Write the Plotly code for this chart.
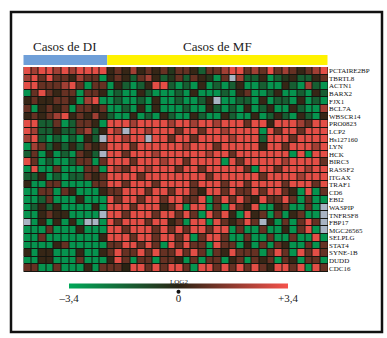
import plotly.graph_objects as go

# ---------------- data ----------------
genes = ["PCTAIRE2BP", "TBRTL8", "ACTN1", "BARX2", "FJX1", "BCL7A", "WBSCR14",
         "PRO0823", "LCP2", "Hs127160", "LYN", "HCK", "BIRC3", "RASSF2", "ITGAX",
         "TRAF1", "CD6", "EBI2", "WASPIP", "TNFRSF8", "FBP17", "MGC26565", "SELPLG",
         "STAT4", "SYNE-1B", "DUDD", "CDC16"]

group_labels = ["Casos de DI", "Casos de MF"]

# log2 expression, rows = genes, columns = DI cases (11)
expr_DI = [
    [3.1, 2.0, 3.1, 3.1, 2.0, 3.1, 2.0, 3.1, 3.1, 3.1, 3.1],
    [2.0, 3.1, 1.0, 3.1, 1.0, 1.0, 0.2, 2.0, 1.0, 1.0, -2.9],
    [3.1, 3.1, 1.0, 1.0, 1.0, 2.0, 3.1, 1.0, -2.9, 1.0, 1.0],
    [-2.9, 1.0, 3.1, 1.0, 0.2, 1.0, 1.0, -2.9, 1.0, 1.0, 0.2],
    [0.2, 1.0, 0.2, 0.2, 1.0, 1.0, 0.2, -2.9, 2.0, 3.1, -2.9],
    [1.0, -2.9, 0.2, 1.0, 0.2, 1.0, -2.9, 1.0, 1.0, 0.2, 1.0],
    [0.2, 1.0, 0.2, 1.0, 2.0, 3.1, 0.2, 1.0, 0.2, 2.0, 0.2],
    [3.1, 3.1, -1.5, -1.5, 1.0, -2.9, -1.5, 1.0, 1.0, 0.2, -2.9],
    [3.1, 2.0, -1.5, -1.5, 0.2, -1.5, -1.5, 1.0, 2.0, -1.5, 0.2],
    [2.0, 3.1, -1.5, -2.9, -1.5, -2.9, -1.5, -2.9, 0.2, -1.5, None],
    [-2.9, 2.0, 1.0, -1.5, 0.2, -1.5, 0.2, -1.5, 1.0, 0.2, 1.0],
    [-1.5, 1.0, -2.9, 0.2, -2.9, -1.5, -2.9, 1.0, 0.2, -1.5, None],
    [3.1, 1.0, -2.9, -1.5, -2.9, -2.9, -1.5, 1.0, 1.0, -2.9, 1.0],
    [-2.9, 3.1, -2.9, -2.9, 1.0, -2.9, -2.9, -2.9, 1.0, 1.0, -2.9],
    [-1.5, -1.5, 0.2, -2.9, -1.5, -2.9, -1.5, -1.5, 1.0, 0.2, 1.0],
    [0.2, -2.9, -2.9, 1.0, 1.0, -2.9, -2.9, -2.9, -2.9, 1.0, 1.0],
    [-2.9, -2.9, 1.0, 1.0, -2.9, 1.0, 0.2, -2.9, -2.9, -2.9, 0.2],
    [-2.9, -2.9, -1.5, 1.0, -2.9, -2.9, -2.9, 0.2, -2.9, -2.9, -2.9],
    [-2.9, -1.5, 0.2, -1.5, 0.2, -2.9, -2.9, -2.9, -2.9, 0.2, -2.9],
    [-2.9, -2.9, 0.2, 1.0, 0.2, 0.2, -2.9, -2.9, -2.9, -2.9, None],
    [None, -2.9, 0.2, -2.9, 0.2, -2.9, 0.2, -2.9, None, None, -2.9],
    [-2.9, -2.9, -2.9, 1.0, -2.9, -2.9, -2.9, 0.2, -2.9, -2.9, -2.9],
    [-2.9, -2.9, 1.0, -2.9, -2.9, -2.9, -2.9, -2.9, -2.9, -2.9, 0.2],
    [-2.9, -2.9, -2.9, -2.9, 0.2, 1.0, -2.9, -2.9, -2.9, -2.9, -2.9],
    [0.2, -2.9, 0.2, 0.2, -2.9, -2.9, -2.9, 0.2, -2.9, -2.9, 0.2],
    [-2.9, -2.9, 0.2, 0.2, -2.9, -2.9, -2.9, 1.0, -2.9, -2.9, -2.9],
    [1.0, 1.0, -2.9, -2.9, 1.0, -2.9, -2.9, -2.9, 0.2, -2.9, 1.0],
]

# log2 expression, rows = genes, columns = MF cases (29)
expr_MF = [
    [0.2, 1.0, 0.2, 2.0, 0.2, 1.0, 0.2, 1.0, -0.5, 1.0, 1.0, 0.2, -1.5, 1.0, 1.0, 2.0, 3.1, 3.1, 1.0, 2.0, 1.0, 3.1, 1.0, 2.0, 1.0, 0.2, 1.0, 2.0, 3.1],
    [0.2, 1.0, 0.2, -1.5, 1.0, 2.0, 0.2, -1.5, -0.5, 1.0, -1.5, 1.0, 0.2, -0.5, -2.9, 1.0, None, 2.0, -1.5, -1.5, 0.2, -2.9, -1.5, -0.5, 0.2, -1.5, -1.5, 0.2, 1.0],
    [-2.9, 0.2, -1.5, -2.9, -1.5, 0.2, 3.1, 3.1, -1.5, -2.9, -1.5, -2.9, 0.2, -2.9, -1.5, -2.9, -1.5, 0.2, -2.9, -2.9, -1.5, -2.9, -2.9, 0.2, -1.5, -2.9, 2.0, -1.5, -2.9],
    [-2.9, -1.5, -2.9, -2.9, 0.2, -1.5, -2.9, -2.9, -2.9, -1.5, -2.9, 0.2, -2.9, -2.9, -2.9, -1.5, -2.9, 0.2, 1.0, -2.9, -2.9, -1.5, 0.2, -2.9, -2.9, -1.5, -2.9, 0.2, -1.5],
    [-2.9, -1.5, -2.9, -2.9, -1.5, -2.9, 0.2, -2.9, -2.9, -1.5, -2.9, -2.9, -1.5, 0.2, None, -2.9, -2.9, -1.5, -1.5, -2.9, 0.2, -2.9, -1.5, -1.5, -2.9, 0.2, -2.9, -1.5, -2.9],
    [-2.9, -2.9, -1.5, -2.9, 0.2, -2.9, 0.2, -2.9, -2.9, -2.9, -1.5, -2.9, -2.9, 0.2, -1.5, -2.9, -1.5, -2.9, 0.2, -2.9, -1.5, 0.2, -2.9, -2.9, 0.2, -1.5, -2.9, -2.9, 2.0],
    [-1.5, -2.9, -2.9, 0.2, -2.9, -1.5, -2.9, 0.2, -1.5, -2.9, -2.9, 0.2, -1.5, -2.9, -2.9, 0.2, -1.5, -2.9, -2.9, 0.2, -2.9, -1.5, 0.2, -1.5, -2.9, 0.2, -1.5, -2.9, 0.2],
    [3.1, 3.1, 3.1, 2.0, 3.1, 3.1, 3.1, 3.1, 2.0, 3.1, 3.1, 2.0, 3.1, 3.1, 2.0, 3.1, 3.1, 3.1, 1.0, 3.1, 3.1, 0.2, 3.1, 3.1, 3.1, 2.0, 1.0, 3.1, 3.1],
    [3.1, 2.0, None, 3.1, 3.1, 2.0, 3.1, 3.1, 3.1, 1.0, 3.1, 3.1, 1.0, 3.1, 3.1, 2.0, 3.1, 3.1, 3.1, 3.1, -2.9, 3.1, 1.0, 3.1, 3.1, 1.0, 3.1, 3.1, 3.1],
    [3.1, 3.1, 2.0, 3.1, 3.1, None, 3.1, 3.1, 1.0, 3.1, 3.1, 1.0, 3.1, 3.1, 3.1, 3.1, 2.0, 3.1, 3.1, 3.1, -1.5, 3.1, 3.1, 3.1, 1.0, 3.1, 3.1, 3.1, 3.1],
    [3.1, 3.1, 3.1, 1.0, 3.1, 3.1, 3.1, 3.1, 3.1, 3.1, 2.0, 3.1, 3.1, 3.1, 1.0, 3.1, 3.1, 3.1, 3.1, 3.1, 0.2, 3.1, 3.1, 1.0, 3.1, 3.1, 3.1, 2.0, 3.1],
    [3.1, 3.1, 1.0, 3.1, 3.1, 3.1, 2.0, 3.1, 3.1, 3.1, 3.1, 3.1, 3.1, 2.0, 3.1, 3.1, 1.0, 3.1, 3.1, 3.1, 3.1, 3.1, 3.1, 3.1, -2.9, 3.1, -2.9, 3.1, 3.1],
    [3.1, 3.1, 3.1, 1.0, 3.1, 3.1, 3.1, 2.0, 3.1, 3.1, 1.0, 3.1, 3.1, 3.1, 3.1, -2.9, 3.1, 1.0, 3.1, 3.1, 3.1, 3.1, 3.1, 2.0, 3.1, 3.1, 3.1, 3.1, 1.0],
    [3.1, 2.0, 1.0, 3.1, 3.1, 2.0, 3.1, 3.1, 3.1, 1.0, 3.1, 3.1, 1.0, 3.1, 3.1, 3.1, 3.1, 3.1, 1.0, -2.9, 3.1, 3.1, 1.0, 3.1, 3.1, 3.1, 2.0, 3.1, 3.1],
    [3.1, 3.1, 3.1, 3.1, 1.0, 3.1, 3.1, 3.1, 3.1, 3.1, 3.1, 3.1, 3.1, 1.0, 3.1, 3.1, 3.1, 3.1, 3.1, 3.1, 1.0, 3.1, 3.1, 3.1, 3.1, 2.0, 3.1, 3.1, 3.1],
    [3.1, 3.1, 1.0, 3.1, 3.1, 3.1, 1.0, 3.1, 3.1, 3.1, 3.1, 1.0, 3.1, 3.1, 3.1, 1.0, 3.1, 3.1, 1.0, 3.1, 3.1, 3.1, 3.1, 1.0, 3.1, 3.1, 3.1, 1.0, 3.1],
    [1.0, 1.0, 3.1, 3.1, 3.1, 1.0, 3.1, 3.1, 1.0, 3.1, 3.1, 1.0, 0.2, 3.1, 3.1, 1.0, 3.1, 1.0, 1.0, 3.1, 1.0, 3.1, 3.1, 1.0, 0.2, -2.9, 3.1, -2.9, 1.0],
    [3.1, 1.0, 3.1, 3.1, 1.0, 3.1, 3.1, 1.0, 3.1, 3.1, 1.0, 1.0, 3.1, -2.9, 1.0, 3.1, 1.0, 3.1, 1.0, 0.2, 3.1, 1.0, 1.0, 3.1, 1.0, -2.9, 1.0, -2.9, -2.9],
    [3.1, 3.1, 3.1, 1.0, 3.1, 3.1, 3.1, 0.2, 1.0, 3.1, -2.9, 3.1, 3.1, -2.9, 1.0, -2.9, 3.1, 1.0, 0.2, 3.1, -2.9, -2.9, 0.2, 1.0, -2.9, -2.9, 1.0, -2.9, None],
    [3.1, 3.1, 1.0, 3.1, 3.1, 3.1, 1.0, 3.1, 3.1, 1.0, 3.1, 1.0, -2.9, 3.1, 1.0, 3.1, 0.2, -2.9, 3.1, 0.2, 1.0, -2.9, 1.0, -2.9, 0.2, 1.0, -2.9, -2.9, None],
    [3.1, 1.0, 3.1, 3.1, 3.1, 1.0, 3.1, 3.1, 0.2, 1.0, -2.9, 3.1, 3.1, -2.9, 3.1, 1.0, 0.2, 1.0, 3.1, 1.0, None, 0.2, -2.9, 1.0, -2.9, 1.0, 3.1, 1.0, None],
    [3.1, 3.1, 1.0, 3.1, 3.1, 3.1, 1.0, 3.1, 1.0, 3.1, 1.0, 3.1, 3.1, 1.0, 3.1, 3.1, -2.9, 1.0, -2.9, -2.9, 1.0, -2.9, -2.9, 0.2, -2.9, 1.0, 3.1, -2.9, None],
    [3.1, 3.1, 3.1, 1.0, 3.1, 3.1, 1.0, 3.1, 3.1, 1.0, 3.1, -2.9, 1.0, 3.1, 3.1, 1.0, -2.9, -2.9, 1.0, -2.9, -2.9, 1.0, -2.9, -2.9, 1.0, -2.9, -2.9, 3.1, -2.9],
    [1.0, 1.0, 3.1, 3.1, 1.0, 3.1, 1.0, -2.9, 3.1, 1.0, 3.1, 1.0, 1.0, -2.9, 3.1, 1.0, 1.0, -2.9, 0.2, -2.9, 1.0, -2.9, 1.0, 0.2, -2.9, -2.9, 1.0, -2.9, 1.0],
    [1.0, 3.1, 1.0, 1.0, 3.1, 1.0, 3.1, 1.0, 1.0, 3.1, 1.0, 3.1, 1.0, -2.9, 1.0, 0.2, 3.1, 1.0, 1.0, 1.0, -2.9, 1.0, 3.1, 1.0, -2.9, 3.1, 1.0, 3.1, 1.0],
    [0.2, 3.1, 1.0, -2.9, 1.0, 1.0, -2.9, 1.0, 1.0, 0.2, -2.9, 1.0, -2.9, 1.0, 1.0, -2.9, 0.2, 1.0, -2.9, 1.0, 0.2, 1.0, -2.9, 1.0, 0.2, -2.9, 1.0, 1.0, -2.9],
    [1.0, 1.0, 0.0, 3.1, 3.1, 1.0, 3.1, 1.0, 3.1, 3.1, 1.0, -2.9, 3.1, 3.1, 1.0, 3.1, 1.0, 3.1, 1.0, 3.1, 1.0, 0.2, 3.1, 3.1, 1.0, 3.1, -2.9, 3.1, 1.0],
]

scale_min, scale_max = -3.4, 3.4
scale_ticks = [-3.4, 0, 3.4]
scale_ticktext = ["\u20133,4", "0", "+3,4"]
scale_title = "LOG2"

# ---------------- build ----------------
W, H = 387, 338
def px(x):
    return x / W
def py(y):
    return 1 - y / H

n_di = len(expr_DI[0])
n_mf = len(expr_MF[0])
z = [a + b for a, b in zip(expr_DI, expr_MF)]
z_missing = [[1 if v is None else None for v in row] for row in z]

FONT = "Liberation Serif"
colorscale = [[0.0, "#00a859"], [0.5, "#2a2313"], [1.0, "#f5524b"]]

fig = go.Figure()
fig.add_trace(go.Heatmap(
    z=z, zmin=scale_min, zmax=scale_max, colorscale=colorscale,
    xgap=1, ygap=1, hoverongaps=False,
    colorbar=dict(
        orientation="h", x=px(178.5), xanchor="center", y=py(291.5), yanchor="middle",
        len=219, lenmode="pixels", thickness=5, outlinewidth=0,
        xpad=0, ypad=0,
        tickvals=scale_ticks, ticktext=scale_ticktext, ticks="",
        tickfont=dict(family=FONT, size=11, color="#222"),
    ),
))
fig.add_trace(go.Heatmap(
    z=z_missing, zmin=0, zmax=1, colorscale=[[0, "#a9b4c3"], [1, "#a9b4c3"]],
    xgap=1, ygap=1, showscale=False, hoverinfo="skip",
))

x0, x1 = 23.5, 328
y0, y1 = 67, 272
fig.update_layout(
    width=W, height=H, margin=dict(l=0, r=0, t=0, b=0),
    paper_bgcolor="white", plot_bgcolor="#15150f",
    xaxis=dict(domain=[px(x0), px(x1)], range=[-0.5, n_di + n_mf - 0.5],
               showticklabels=False, showgrid=False, zeroline=False, ticks=""),
    yaxis=dict(domain=[py(y1), py(y0)], range=[len(genes) - 0.5, -0.5], side="right",
               tickmode="array", tickvals=list(range(len(genes))), ticktext=genes,
               tickfont=dict(family=FONT, size=7, color="#111"),
               showgrid=False, zeroline=False, ticks=""),
    showlegend=False,
)

split_x = x0 + (x1 - x0) * n_di / (n_di + n_mf)
shapes = [
    dict(type="rect", xref="paper", yref="paper", x0=px(x0), x1=px(split_x),
         y0=py(65), y1=py(55), fillcolor="#6f9fd8", line=dict(width=0)),
    dict(type="rect", xref="paper", yref="paper", x0=px(split_x), x1=px(x1 - 0.5),
         y0=py(65), y1=py(55), fillcolor="#fff200", line=dict(width=0)),
    dict(type="rect", xref="paper", yref="paper", x0=px(11), x1=px(382),
         y0=py(332), y1=py(12), line=dict(color="#111", width=2.5)),
    dict(type="circle", xref="paper", yref="paper", x0=px(176.5), x1=px(180.5),
         y0=py(293.7), y1=py(289.7), fillcolor="#111", line=dict(width=0)),
]
fig.update_layout(shapes=shapes)

fig.add_annotation(x=px((x0 + split_x) / 2), y=py(47), xref="paper", yref="paper",
                   xanchor="center", yanchor="middle",
                   text=group_labels[0], showarrow=False,
                   font=dict(family=FONT, size=13, color="#222"))
fig.add_annotation(x=px((split_x + x1) / 2), y=py(47), xref="paper", yref="paper",
                   xanchor="center", yanchor="middle",
                   text=group_labels[1], showarrow=False,
                   font=dict(family=FONT, size=13, color="#222"))
fig.add_annotation(x=px(178.5), y=py(282), xref="paper", yref="paper",
                   xanchor="center", yanchor="middle",
                   text=scale_title, showarrow=False,
                   font=dict(family=FONT, size=7, color="#222"))

fig.write_html("out.html", config={"displayModeBar": False},
               post_script="document.body.style.margin='0';document.body.style.overflow='hidden';")
